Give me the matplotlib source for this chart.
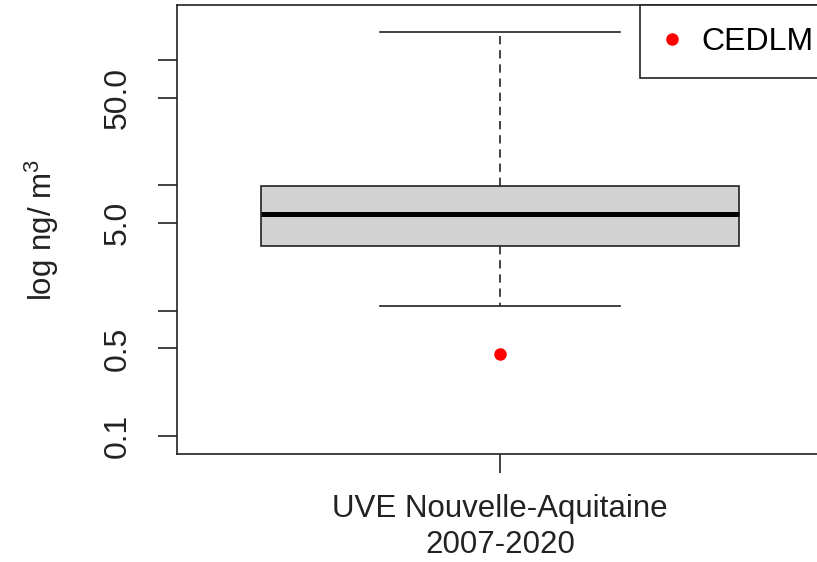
import matplotlib
matplotlib.use("Agg")
import matplotlib.pyplot as plt

plt.rcParams['font.family'] = ['Liberation Sans', 'DejaVu Sans']
plt.rcParams['mathtext.fontset'] = 'custom'
plt.rcParams['mathtext.rm'] = 'Liberation Sans'
plt.rcParams['mathtext.it'] = 'Liberation Sans'

# box statistics (ng/m3, log scale)
group = 'UVE Nouvelle-Aquitaine\n2007-2020'
q1 = 3.28
median = 5.9
q3 = 9.87
whis_low = 1.09
whis_high = 167.0
cedlm = 0.45

yticks = [0.1, 0.5, 1, 5, 10, 50, 100]
ytick_labels = ['0.1', '0.5', '', '5.0', '', '50.0', '']

ink = '#222222'
fs = 23

fig = plt.figure(figsize=(8.17, 5.62), dpi=100)
ax = fig.add_axes([177 / 817, 108 / 562, 646 / 817, 449 / 562])

stats = [dict(med=median, q1=q1, q3=q3, whislo=whis_low, whishi=whis_high,
              fliers=[], label=group)]
ax.bxp(stats, positions=[1], widths=0.8, patch_artist=True,
       boxprops=dict(facecolor='#d3d3d3', edgecolor=ink, linewidth=1.2),
       medianprops=dict(color='black', linewidth=3.6, solid_capstyle='butt'),
       whiskerprops=dict(color=ink, linewidth=1.2, linestyle=(0, (5, 3.5))),
       capprops=dict(color=ink, linewidth=1.2), capwidths=0.4)

ax.plot([1], [cedlm], 'o', color='red', markersize=8, label='CEDLM')

ax.set_yscale('log')
ax.set_ylim(0.0718, 275)
ax.set_xlim(0.46, 1.54)
ax.set_yticks(yticks)
ax.set_yticklabels(ytick_labels, rotation=90, va='center', fontsize=fs, color=ink)
ax.minorticks_off()
ax.set_xticks([1])
ax.set_xticklabels([group], fontsize=22.5, color=ink, linespacing=1.25)
ax.tick_params(axis='y', length=14, width=1.2, pad=18, color=ink)
ax.tick_params(axis='x', length=14, width=1.2, pad=15, color=ink)
for s in ax.spines.values():
    s.set_color(ink)
    s.set_linewidth(1.2)

ax.set_ylabel('log ng/ m$^3$', fontsize=22.5, color=ink, labelpad=30)

leg = ax.legend(loc='upper right', bbox_to_anchor=(1 + 12 / 646, 1),
                borderaxespad=0, fancybox=False, edgecolor=ink, framealpha=1,
                fontsize=fs, handlelength=0.67, handletextpad=0.57,
                borderpad=0.68)
leg.get_frame().set_linewidth(1.2)

fig.savefig('out.png', dpi=100)
